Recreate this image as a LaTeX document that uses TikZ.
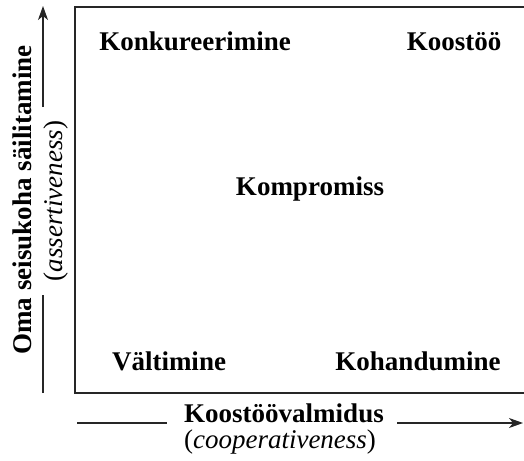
\documentclass[tikz,border=0pt]{standalone}
\usepackage{fontspec}
\setmainfont{Liberation Serif}
\usetikzlibrary{arrows.meta}
\begin{document}
\begin{tikzpicture}[x=1pt,y=-1pt,
  lbl/.style={font=\fontsize{27}{31}\selectfont\bfseries, inner sep=0pt, anchor=base},
  sub/.style={font=\fontsize{27}{31}\selectfont, inner sep=0pt, anchor=base},
  axisline/.style={line width=1.2pt, draw=black!85},
  axisarrow/.style={axisline, -{Stealth[length=14pt,width=10pt,inset=4pt]}}]
\useasboundingbox (0,0) rectangle (524,460);
\clip (0,0) rectangle (524,460);
\draw[line width=1.6pt, draw=black!85] (75,7) rectangle (532,393);
% quadrant labels
\node[lbl] (konk) at (195,50) {Konkureerimine};
\node[lbl] (koos) at (454,50) {Koostöö};
\node[lbl] (komp) at (310,195) {Kompromiss};
\node[lbl] (valt) at (169,370) {Vältimine};
\node[lbl] (koha) at (418,370) {Kohandumine};
% horizontal axis
\node[lbl] (xlab) at (284,422) {Koostöövalmidus};
\node[sub] (xsub) at (280,448) {(\textit{cooperativeness})};
\coordinate (xa) at (77,423);
\coordinate (xb) at (167,423);
\coordinate (xc) at (397,423);
\coordinate (xd) at (523,423);
\draw[axisline] (xa) -- (xb);
\draw[axisarrow] (xc) -- (xd);
% vertical axis
\node[lbl, rotate=90] (ylab) at (31,200) {Oma seisukoha säilitamine};
\node[sub, rotate=90] (ysub) at (62,201) {(\textit{assertiveness})};
\coordinate (ya) at (43,393);
\coordinate (yb) at (43,295);
\coordinate (yc) at (43,107);
\coordinate (yd) at (43,6);
\draw[axisline] (ya) -- (yb);
\draw[axisarrow] (yc) -- (yd);
\end{tikzpicture}
\end{document}
